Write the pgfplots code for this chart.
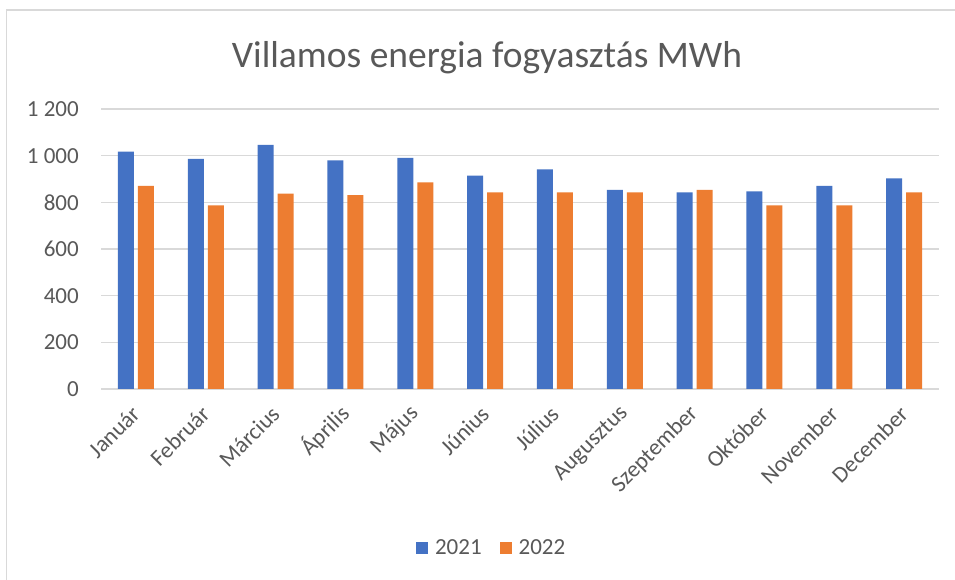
\documentclass[border=0pt]{standalone}
\usepackage{pgfplots}
\pgfplotsset{compat=1.18}
\usepackage{fontspec}
\setmainfont{Carlito}
\definecolor{blue21}{HTML}{4472C4}
\definecolor{orange22}{HTML}{ED7D31}
\definecolor{txt}{HTML}{595959}
\definecolor{gridc}{HTML}{D9D9D9}

\begin{document}
\begin{tikzpicture}
\path[use as bounding box, fill=white] (0,0) rectangle (955bp,580bp);
\draw[gridc, line width=1.5bp] (6.5bp,0) -- (6.5bp,570bp) -- (955bp,570bp);
\begin{axis}[
    at={(101bp,191bp)}, anchor=south west,
    scale only axis, width=838bp, height=280bp,
    ybar=4bp, bar width=16bp,
    xmin=-0.5, xmax=11.5, ymin=0, ymax=1200,
    xtick={0,...,11},
    xticklabels={Január,Február,Március,Április,Május,Június,Július,Augusztus,Szeptember,Október,November,December},
    ytick={0,200,...,1200},
    yticklabels={0,200,400,600,800,1 000,1 200},
    axis line style={draw=none},
    ymajorgrids, grid style={gridc, line width=1.5bp},
    major tick length=0pt,
    tick label style={font=\fontsize{23bp}{27bp}\selectfont, text=txt, inner sep=0pt},
    yticklabel shift=22bp,
    xticklabel shift=21bp,
    xticklabel style={rotate=45, anchor=east},
    legend style={at={(axis description cs:0.465,-0.568)}, anchor=center,
        draw=none, fill=none, legend columns=2,
        font=\fontsize{23bp}{27bp}\selectfont, text=txt,
        nodes={inner sep=0pt},
        /tikz/every odd column/.append style={column sep=7bp},
        /tikz/every even column/.append style={column sep=18bp}},
]

% 2021
\addplot[fill=blue21, draw=none,
    legend image code/.code={\fill[blue21] (0bp,-6bp) rectangle (12bp,6bp);}]
coordinates {
    (0,1017) (1,986) (2,1046) (3,980) (4,991) (5,914)
    (6,941) (7,853) (8,843) (9,847) (10,870) (11,903)
};
\addlegendentry{2021}

% 2022
\addplot[fill=orange22, draw=none,
    legend image code/.code={\fill[orange22] (0bp,-6bp) rectangle (12bp,6bp);}]
coordinates {
    (0,870) (1,787) (2,837) (3,831) (4,886) (5,843)
    (6,843) (7,843) (8,853) (9,787) (10,787) (11,843)
};
\addlegendentry{2022}

\end{axis}
\node[font=\fontsize{37.5bp}{41bp}\selectfont, text=txt, anchor=base] at (487bp,512bp) {Villamos energia fogyasztás MWh};
\end{tikzpicture}
\end{document}
